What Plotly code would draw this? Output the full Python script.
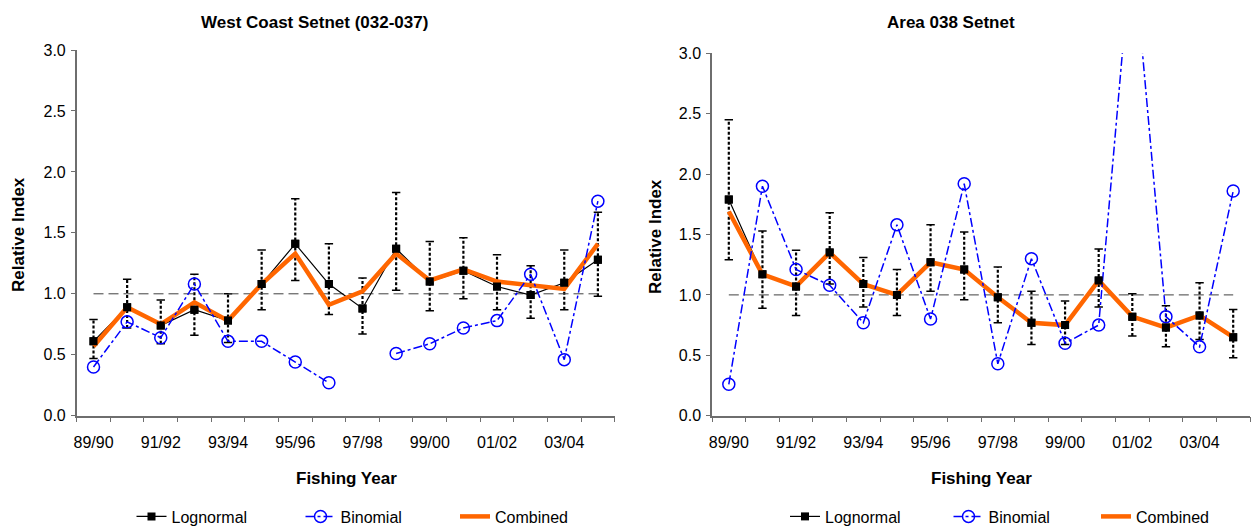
import plotly.graph_objects as go

W, H = 1252, 526

years = ["89/90", "90/91", "91/92", "92/93", "93/94", "94/95", "95/96", "96/97",
         "97/98", "98/99", "99/00", "00/01", "01/02", "02/03", "03/04", "04/05"]
tick_labels = ["89/90", "91/92", "93/94", "95/96", "97/98", "99/00", "01/02", "03/04"]

# West Coast Setnet (032-037)
wc_lognormal = [0.61, 0.89, 0.74, 0.87, 0.78, 1.08, 1.41, 1.08, 0.88, 1.37, 1.10, 1.19, 1.06, 0.99, 1.09, 1.28]
wc_lower = [0.47, 0.72, 0.59, 0.66, 0.60, 0.87, 1.11, 0.83, 0.67, 1.03, 0.86, 0.96, 0.87, 0.80, 0.87, 0.98]
wc_upper = [0.79, 1.12, 0.95, 1.16, 1.00, 1.36, 1.78, 1.41, 1.13, 1.83, 1.43, 1.46, 1.32, 1.23, 1.36, 1.67]
wc_binomial = [0.40, 0.77, 0.64, 1.08, 0.61, 0.61, 0.44, 0.27, None, 0.51, 0.59, 0.72, 0.78, 1.16, 0.46, 1.76]
wc_combined = [0.57, 0.89, 0.75, 0.93, 0.78, 1.08, 1.33, 0.91, 1.02, 1.33, 1.11, 1.20, 1.10, 1.07, 1.04, 1.41]

# Area 038 Setnet
a38_lognormal = [1.79, 1.17, 1.07, 1.35, 1.09, 1.00, 1.27, 1.21, 0.98, 0.77, 0.75, 1.12, 0.82, 0.73, 0.83, 0.65]
a38_lower = [1.29, 0.89, 0.83, 1.09, 0.90, 0.83, 1.03, 0.96, 0.77, 0.59, 0.59, 0.90, 0.66, 0.57, 0.63, 0.48]
a38_upper = [2.45, 1.53, 1.37, 1.68, 1.31, 1.21, 1.58, 1.52, 1.23, 1.03, 0.95, 1.38, 1.01, 0.91, 1.10, 0.88]
a38_binomial = [0.26, 1.90, 1.21, 1.08, 0.77, 1.58, 0.80, 1.92, 0.43, 1.30, 0.60, 0.75, 3.95, 0.82, 0.57, 1.86]
a38_combined = [1.69, 1.17, 1.07, 1.35, 1.09, 1.00, 1.27, 1.21, 0.98, 0.77, 0.75, 1.12, 0.82, 0.73, 0.83, 0.65]

reference_level = 1.0

FONT = "Liberation Sans, Arial, sans-serif"
ORANGE = "#FF6600"
BLUE = "#0000FF"
AXIS = "#6e6e6e"

fig = go.Figure()
xi = list(range(len(years)))


def px_x(p):
    return p / W


def px_y(p):
    return 1 - p / H


def add_panel(xa, ya, logn, lo, hi, binom, comb, legs):
    ex, ey = [], []
    for i in xi:
        ex += [i, i, None]
        ey += [lo[i], hi[i], None]
    fig.add_trace(go.Scatter(x=ex, y=ey, mode="lines", xaxis=xa, yaxis=ya,
                             line=dict(color="black", width=2.2, dash="3px,2px"),
                             showlegend=False, hoverinfo="skip"))
    fig.add_trace(go.Scatter(x=xi + xi, y=lo + hi, mode="markers", xaxis=xa, yaxis=ya,
                             marker=dict(symbol="line-ew", size=6, color="black",
                                         line=dict(width=1.5, color="black")),
                             showlegend=False, hoverinfo="skip"))
    fig.add_trace(go.Scatter(x=[xi[0], xi[-1]], y=[reference_level, reference_level],
                             mode="lines", xaxis=xa, yaxis=ya,
                             line=dict(color="#404040", width=1, dash="10px,5px"),
                             showlegend=False, hoverinfo="skip"))
    # lognormal line sits under the combined line; its squares are redrawn on top
    fig.add_trace(go.Scatter(x=xi, y=logn, mode="lines+markers", name="Lognormal",
                             xaxis=xa, yaxis=ya,
                             line=dict(color="black", width=1.2),
                             marker=dict(symbol="square", size=8, color="black"),
                             legend=legs[0]))
    fig.add_trace(go.Scatter(x=xi, y=comb, mode="lines", name="Combined", xaxis=xa, yaxis=ya,
                             line=dict(color=ORANGE, width=4.5), legend=legs[2]))
    fig.add_trace(go.Scatter(x=xi, y=binom, mode="lines+markers", name="Binomial",
                             xaxis=xa, yaxis=ya, connectgaps=False,
                             line=dict(color=BLUE, width=1.5, dash="dashdot"),
                             marker=dict(symbol="circle-open", size=12, color=BLUE,
                                         line=dict(width=1.5, color=BLUE)),
                             legend=legs[1]))
    fig.add_trace(go.Scatter(x=xi, y=logn, mode="markers", xaxis=xa, yaxis=ya,
                             marker=dict(symbol="square", size=8, color="black"),
                             showlegend=False, hoverinfo="skip"))


add_panel("x", "y", wc_lognormal, wc_lower, wc_upper, wc_binomial, wc_combined,
          ["legend", "legend2", "legend3"])
add_panel("x2", "y2", a38_lognormal, a38_lower, a38_upper, a38_binomial, a38_combined,
          ["legend4", "legend5", "legend6"])

xcommon = dict(range=[-0.5, 15.5], tickmode="array", tickvals=xi[::2], ticktext=tick_labels,
               ticks="", showline=True, linecolor=AXIS, linewidth=1.5, showgrid=False,
               zeroline=False, tickfont=dict(family=FONT, size=16, color="black"),
               ticklabelstandoff=11,
               minor=dict(tickmode="array", tickvals=[v - 0.5 for v in range(17)],
                          ticks="outside", ticklen=5, tickcolor=AXIS, tickwidth=1.2))
ycommon = dict(range=[0, 3], tickmode="linear", tick0=0, dtick=0.5, tickformat=".1f",
               ticks="outside", ticklen=4, tickcolor=AXIS, showline=True, linecolor=AXIS,
               linewidth=1.5, showgrid=False, zeroline=False, ticklabelstandoff=2,
               tickfont=dict(family=FONT, size=16, color="black"))

fig.update_layout(
    xaxis=dict(domain=[px_x(76.7), px_x(614.7)], anchor="y", **xcommon),
    yaxis=dict(domain=[px_y(415.7), px_y(50)], anchor="x", **ycommon),
    xaxis2=dict(domain=[px_x(712), px_x(1250)], anchor="y2", **xcommon),
    yaxis2=dict(domain=[px_y(415.7), px_y(53.3)], anchor="x2", **ycommon),
)

leg_text_x = [171.5, 340.5, 495, 825, 988.5, 1136]
leg_names = ["legend", "legend2", "legend3", "legend4", "legend5", "legend6"]
legend_font = dict(family=FONT, size=16, color="black")
for name, tx in zip(leg_names, leg_text_x):
    fig.update_layout({name: dict(x=px_x(tx - 40), xanchor="left", y=px_y(516.5), yanchor="middle",
                                  orientation="h", font=legend_font, bgcolor="rgba(0,0,0,0)",
                                  borderwidth=0)})

bold = dict(family=FONT, size=17, color="black")
annotations = [
    dict(text="<b>West Coast Setnet (032-037)</b>", x=px_x(314.5), y=px_y(22)),
    dict(text="<b>Area 038 Setnet</b>", x=px_x(951), y=px_y(22.5)),
    dict(text="<b>Relative Index</b>", x=px_x(18), y=px_y(235), textangle=-90),
    dict(text="<b>Relative Index</b>", x=px_x(655), y=px_y(237), textangle=-90),
    dict(text="<b>Fishing Year</b>", x=px_x(346), y=px_y(478)),
    dict(text="<b>Fishing Year</b>", x=px_x(981), y=px_y(478)),
]
for a in annotations:
    a.update(xref="paper", yref="paper", xanchor="center", yanchor="middle",
             showarrow=False, font=bold)

fig.update_layout(
    width=W, height=H, margin=dict(l=0, r=0, t=0, b=0, autoexpand=False),
    paper_bgcolor="white", plot_bgcolor="white",
    annotations=annotations, font=dict(family=FONT, color="black"),
)

fig.write_html("out.html")
